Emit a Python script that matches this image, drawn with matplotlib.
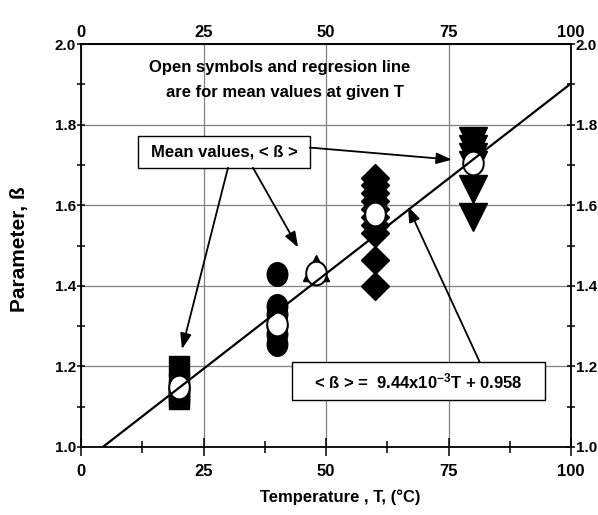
import numpy as np
import matplotlib
matplotlib.use("Agg")
import matplotlib.pyplot as plt
from matplotlib.path import Path
from matplotlib.patches import Rectangle
from matplotlib.ticker import MultipleLocator, FormatStrFormatter

plt.rcParams['font.family'] = ['Liberation Sans', 'DejaVu Sans']
plt.rcParams['font.weight'] = 'bold'
plt.rcParams['mathtext.fontset'] = 'custom'
plt.rcParams['mathtext.rm'] = 'Liberation Sans:bold'
plt.rcParams['mathtext.bf'] = 'Liberation Sans:bold'
plt.rcParams['mathtext.default'] = 'rm'

# Individual measurements of the parameter at each temperature
t20 = [20, 20, 20, 20, 20]
beta20 = [1.12, 1.13, 1.14, 1.16, 1.20]
t40 = [40, 40, 40, 40, 40, 40]
beta40 = [1.43, 1.35, 1.33, 1.30, 1.28, 1.255]
t48 = [48]
beta48 = [1.445]
t60 = [60] * 10
beta60 = [1.667, 1.65, 1.63, 1.61, 1.59, 1.57, 1.55, 1.53, 1.465, 1.40]
t80 = [80] * 6
beta80 = [1.76, 1.74, 1.72, 1.70, 1.64, 1.57]

# Mean values at each temperature
t_mean = [20, 40, 48, 60, 80]
beta_mean = [1.148, 1.305, 1.433, 1.577, 1.705]

# Regression of the means
slope = 9.44e-3
intercept = 0.958

x_ticks = [0, 25, 50, 75, 100]
y_ticks = [1.0, 1.2, 1.4, 1.6, 1.8, 2.0]

fig = plt.figure(figsize=(5.98, 5.15), dpi=100)
ax = fig.add_axes([81 / 598, 1 - 447 / 515, 490 / 598, 403 / 515])
ax.set_xlim(0, 100)
ax.set_ylim(1.0, 2.0)

# slightly tall ellipse used for the round symbols
th = np.linspace(0, 2 * np.pi, 73)
ellipse = Path(np.column_stack([np.cos(th), 1.15 * np.sin(th)]), closed=True)

ax.plot(t20, beta20, ls='none', marker='s', ms=14.4, mfc='black', mec='black', zorder=3)
ax.plot(t40, beta40, ls='none', marker=ellipse, ms=17, mfc='black', mec='black', zorder=3)
ax.plot(t48, beta48, ls='none', marker='^', ms=19, mfc='black', mec='black', zorder=3)
ax.plot(t60, beta60, ls='none', marker='D', ms=14.5, mfc='black', mec='black', zorder=3)
ax.plot(t80, beta80, ls='none', marker='v', ms=19.5, mfc='black', mec='black', zorder=3)

ax.plot(t_mean, beta_mean, ls='none', marker=ellipse, ms=17, mfc='white',
        mec='black', mew=1.4, zorder=4)

t_line = np.array([(1.0 - intercept) / slope, 100.0])
ax.plot(t_line, slope * t_line + intercept, color='black', lw=1.6, zorder=5)

# axes, ticks and grid
ax.xaxis.set_minor_locator(MultipleLocator(12.5))
ax.yaxis.set_minor_locator(MultipleLocator(0.1))
ax.yaxis.set_major_formatter(FormatStrFormatter('%.1f'))
ax.set_xticks(x_ticks)
ax.set_yticks(y_ticks)
ax.grid(True, which='major', color='#808080', lw=0.9)
ax.set_axisbelow(True)
for s in ax.spines.values():
    s.set_linewidth(1.3)

ax.tick_params(axis='x', which='major', direction='inout', length=13, width=1.1,
               top=False, pad=5.5, labelsize=12)
ax.tick_params(axis='x', which='minor', direction='inout', length=8, width=1.1, top=False)
ax.tick_params(axis='y', which='major', direction='inout', length=6, width=1.1,
               left=True, right=True, labelleft=True, labelright=True, pad=0.5,
               labelsize=11)
ax.tick_params(axis='y', which='minor', direction='inout', length=6, width=1.1,
               left=True, right=True)
for lab in ax.get_xticklabels() + ax.get_yticklabels():
    lab.set_fontweight('bold')

top = ax.secondary_xaxis('top')
top.set_xticks(x_ticks)
top.tick_params(axis='x', which='both', length=0, pad=3, labelsize=12)
top.spines['top'].set_linewidth(1.3)
for lab in top.get_xticklabels():
    lab.set_fontweight('bold')

fig.text(340 / 598, 1 - 497 / 515, 'Temperature , T, (°C)', ha='center', va='center',
         fontsize=12, fontweight='bold')
fig.text(20 / 598, 1 - 249 / 515, 'Parameter, ß', ha='center', va='center',
         rotation=90, fontsize=15, fontweight='bold')

# note at the top
ax.text(13.9, 1.931, 'Open symbols and regresion line', fontsize=12,
        fontweight='bold', ha='left', va='baseline', zorder=7)
ax.text(17.3, 1.869, 'are for mean values at given T', fontsize=12,
        fontweight='bold', ha='left', va='baseline', zorder=7)

# "Mean values" callout
ax.add_patch(Rectangle((11.6, 1.693), 35.1, 0.079, facecolor='white',
                       edgecolor='black', lw=1.0, zorder=6))
ax.text(29.2, 1.733, 'Mean values, < ß >', fontsize=12, fontweight='bold',
        ha='center', va='center', zorder=7)

arrow = dict(arrowstyle='-|>,head_length=0.55,head_width=0.2', mutation_scale=17,
             color='black', lw=1.3, shrinkA=0, shrinkB=0)
for tail, tip in [((30.0, 1.693), (20.6, 1.243)),
                  ((35.1, 1.693), (44.3, 1.495)),
                  ((46.7, 1.743), (75.7, 1.713)),
                  ((81.4, 1.210), (66.7, 1.597))]:
    ax.annotate('', xy=tip, xytext=tail, arrowprops=arrow, zorder=6)

# regression equation box
ax.add_patch(Rectangle((43.1, 1.116), 51.6, 0.094, facecolor='white',
                       edgecolor='black', lw=1.0, zorder=6))
ax.text(68.9, 1.163, '< ß > =  9.44x10$^{-3}$T + 0.958', fontsize=12,
        fontweight='bold', ha='center', va='center', zorder=7)

fig.savefig('out.png', dpi=100)
